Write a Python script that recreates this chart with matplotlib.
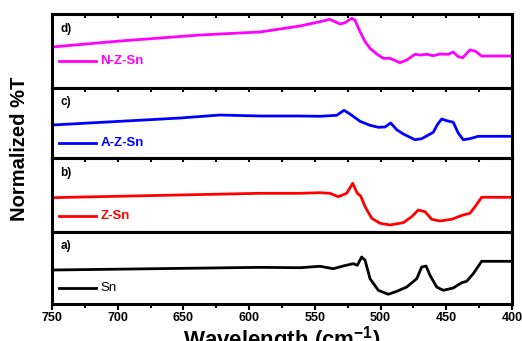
#!/usr/bin/env python3
"""Stacked FTIR-style transmittance panels: Sn, Z-Sn, A-Z-Sn, N-Z-Sn."""
import matplotlib
matplotlib.use("Agg")
import matplotlib.pyplot as plt
from matplotlib.ticker import MultipleLocator

plt.rcParams["font.family"] = ["Liberation Sans", "DejaVu Sans"]
plt.rcParams["mathtext.fontset"] = "custom"
plt.rcParams["mathtext.rm"] = "Liberation Sans:bold"
plt.rcParams["mathtext.bf"] = "Liberation Sans:bold"

# a) Sn
wn_a = [750, 591.7, 561.3, 546.1, 536.0, 528.4, 520.7, 517.7, 514.4, 511.8,
        508.0, 501.7, 494.1, 487.7, 480.1, 472.5, 468.7, 465.4, 462.4, 457.3,
        452.3, 444.7, 438.3, 434.5, 429.5, 423.1, 400]
t_a = [47.2, 50.9, 50.4, 52.4, 49.0, 52.8, 56.0, 53.8, 65.3, 60.7,
       35.1, 19.0, 13.5, 17.6, 23.6, 35.1, 51.4, 52.8, 39.9, 23.6,
       19.0, 22.2, 29.6, 31.5, 42.1, 59.3, 59.3]

# b) Z-Sn
wn_b = [750, 591.7, 561.3, 546.1, 538.5, 532.2, 525.8, 521.2, 517.7, 515.1,
        511.8, 506.7, 500.4, 492.8, 482.7, 476.3, 471.3, 466.2, 461.1, 454.8,
        445.9, 437.1, 432.0, 428.1, 423.1, 400]
t_b = [46.4, 52.3, 52.3, 53.1, 52.3, 47.7, 52.3, 65.8, 52.3, 48.6,
       34.2, 18.5, 11.8, 9.5, 12.6, 20.7, 29.7, 27.4, 17.2, 14.9,
       17.2, 23.0, 25.3, 34.2, 46.9, 46.9]

# c) A-Z-Sn
wn_c = [750, 652.6, 622.2, 591.7, 561.3, 546.1, 533.4, 527.8, 523.3, 515.6,
        508.0, 501.7, 496.6, 492.3, 487.7, 482.7, 477.6, 473.8, 468.7, 459.9,
        456.8, 453.5, 449.7, 444.7, 440.9, 437.1, 432.0, 425.6, 400]
t_c = [47.1, 57.1, 61.4, 60.0, 60.0, 59.6, 61.0, 68.1, 62.9, 52.4,
       46.7, 43.9, 44.3, 50.0, 40.4, 34.3, 29.6, 26.1, 27.6, 36.7,
       47.6, 55.7, 53.3, 51.0, 35.7, 26.1, 27.6, 31.0, 31.0]

# d) N-Z-Sn
wn_d = [750, 698.3, 637.4, 591.7, 561.3, 546.1, 538.5, 530.9, 527.1, 522.0,
        519.5, 515.6, 511.8, 508.0, 502.9, 497.9, 492.8, 485.2, 480.1, 473.8,
        470.0, 464.9, 459.9, 454.8, 448.5, 444.7, 440.9, 437.5, 432.0, 428.1,
        423.1, 400]
t_d = [55.4, 63.5, 71.6, 75.7, 83.8, 89.6, 92.8, 86.5, 88.2, 94.2,
       91.9, 76.1, 62.6, 53.6, 45.9, 40.1, 40.1, 34.2, 37.8, 45.5,
       44.6, 45.5, 43.6, 45.9, 45.5, 48.6, 42.3, 40.9, 51.4, 50.0,
       43.2, 43.2]

names = ["Sn", "Z-Sn", "A-Z-Sn", "N-Z-Sn"]
tags = ["a)", "b)", "c)", "d)"]
colors = ["black", "#ff0000", "#0000ff", "#ff00ff"]
series = [(wn_a, t_a), (wn_b, t_b), (wn_c, t_c), (wn_d, t_d)]

fig = plt.figure(figsize=(5.22, 3.41), dpi=100)
# panel top/bottom pixel rows of the 341-px figure, top panel first
rows = [(14, 88), (88, 158), (158, 232), (232, 304)]
H = 341.0
left, right = 52 / 522, 512 / 522
axes = []
for top, bot in rows:
    axes.append(fig.add_axes([left, 1 - bot / H, right - left, (bot - top) / H]))
axes = axes[::-1]  # a) at the bottom

legend_y = [0.22, 0.22, 0.22, 0.36]
for k, ax in enumerate(axes):
    wn, t = series[k]
    ax.plot(wn, t, color=colors[k], lw=2.0, solid_joinstyle="round",
            solid_capstyle="round")
    ax.set_xlim(750, 400)
    ax.set_ylim(0, 100)
    for s in ax.spines.values():
        s.set_linewidth(2.2)
    ax.xaxis.set_major_locator(MultipleLocator(50))
    ax.xaxis.set_minor_locator(MultipleLocator(25))
    ax.yaxis.set_major_locator(MultipleLocator(8))
    ax.yaxis.set_minor_locator(MultipleLocator(4))
    ax.tick_params(axis="y", which="both", direction="inout", length=2.0,
                   width=0.8, left=True, right=True, labelleft=False)
    if k == 0:
        ax.tick_params(axis="x", which="both", direction="out", length=4,
                       width=1.5, top=True, bottom=True, labelsize=9, pad=2)
        ax.tick_params(axis="x", which="minor", length=3)
        ax.tick_params(axis="x", which="both", top=False)
        for lab in ax.get_xticklabels():
            lab.set_fontweight("bold")
    else:
        ax.tick_params(axis="x", which="both", direction="in", length=3,
                       width=1.5, top=True, bottom=False, labelbottom=False)
    ax.text(0.018, 0.80, tags[k], transform=ax.transAxes, fontsize=8.5,
            fontweight="bold", va="center")
    ly = legend_y[k]
    ax.plot([0.015, 0.095], [ly, ly], transform=ax.transAxes, color=colors[k],
            lw=2.0, clip_on=False)
    ax.text(0.105, ly, names[k], transform=ax.transAxes, color=colors[k],
            fontsize=9.5, fontweight="normal" if k == 0 else "bold", va="center")

axes[0].set_xlabel("Wavelength (cm$^{-1}$)", fontsize=16,
                   fontweight="bold", labelpad=0)
fig.text(0.038, 0.563, "Normalized %T", rotation=90, fontsize=14.5,
         fontweight="bold", va="center", ha="center")

fig.savefig("out.png", dpi=100)
